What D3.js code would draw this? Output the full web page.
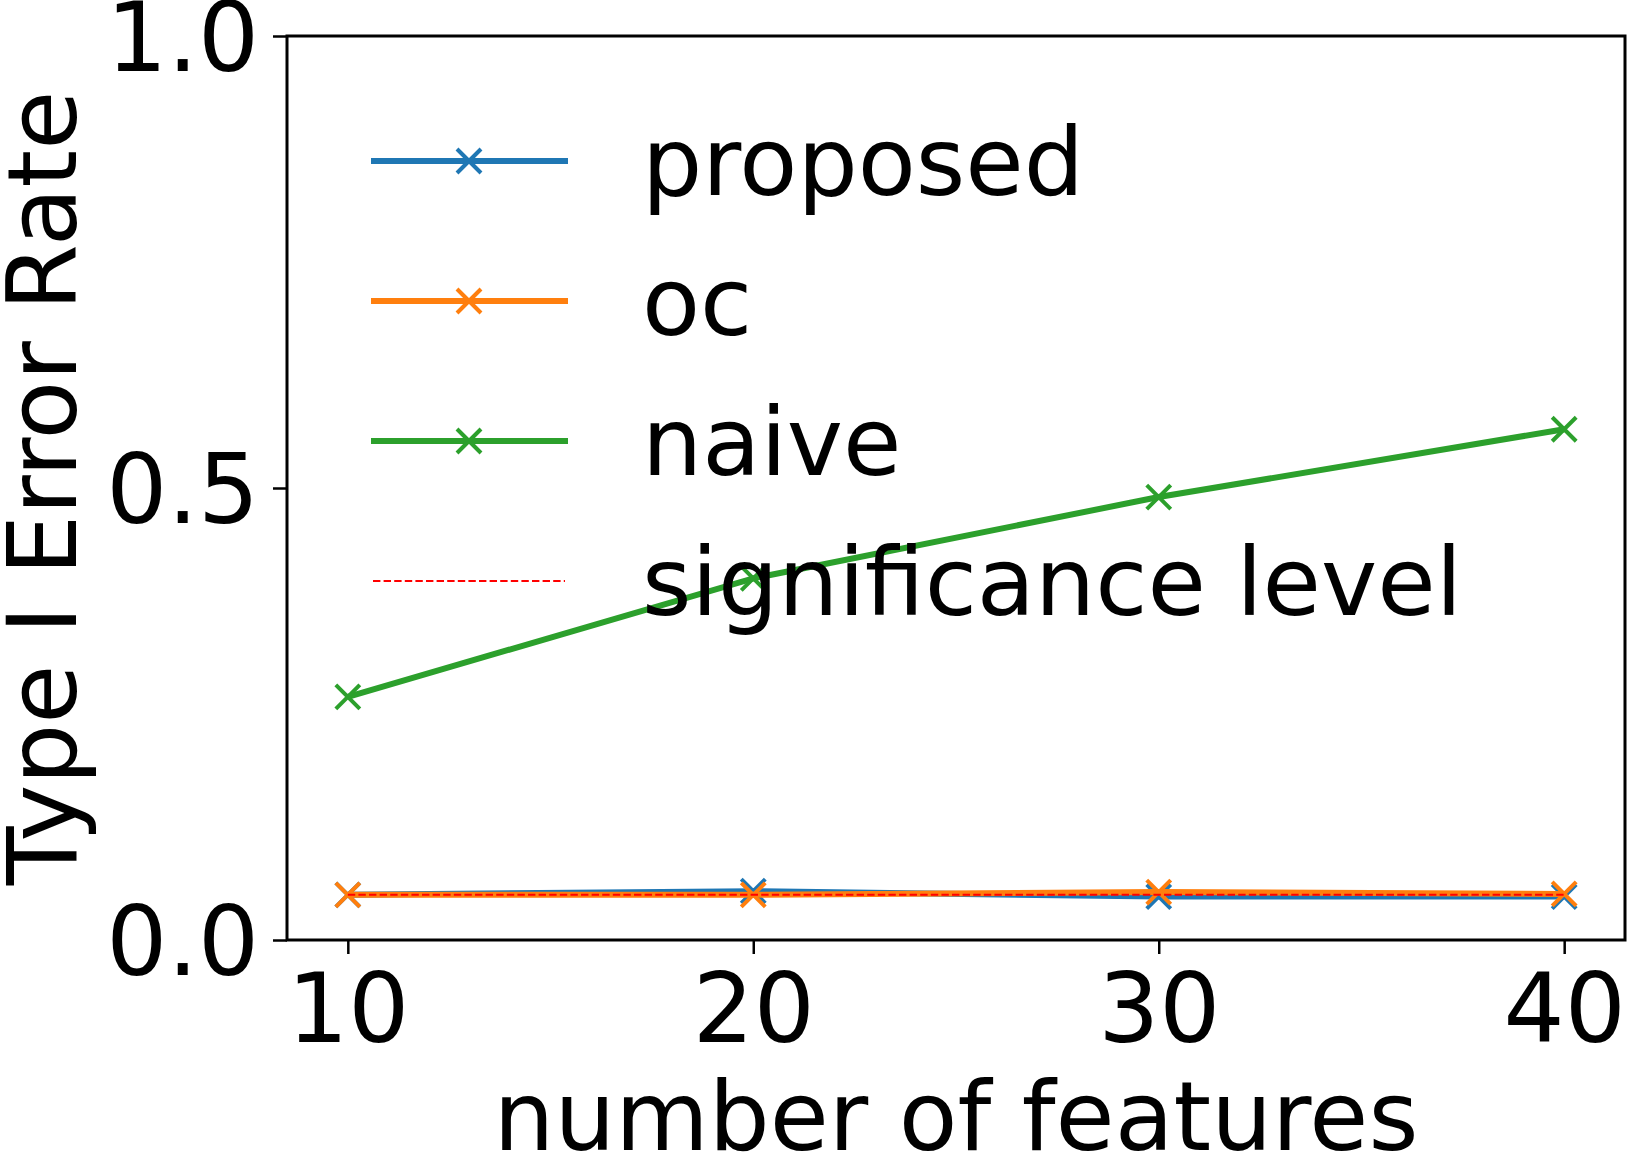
<!DOCTYPE html>
<html>
<head>
<meta charset="utf-8">
<script src="https://cdn.jsdelivr.net/npm/d3@7"></script>
<style>
  body { margin: 0; background: #fff; }
  svg { display: block; font-family: 'DejaVu Sans', sans-serif; }
</style>
</head>
<body>
<svg id="vis_svg" width="1627" height="1169"></svg>
<script>
// data
const features = [10, 20, 30, 40];
const proposed = [0.050, 0.054, 0.048, 0.048];
const oc = [0.050, 0.050, 0.053, 0.051];
const naive = [0.269, 0.400, 0.490, 0.565];
const significance = 0.05;
const xTicks = [10, 20, 30, 40];
const yTicks = [0.0, 0.5, 1.0];

const series = [
  { name: 'proposed', values: proposed, color: '#1f77b4' },
  { name: 'oc', values: oc, color: '#ff7f0e' },
  { name: 'naive', values: naive, color: '#2ca02c' },
];

const margin = { top: 36, bottom: 229, left: 287, right: 2 };
const svg = d3.select('#vis_svg');
const width = 1627, height = 1169;

const xScale = d3.scaleLinear().domain([8.5, 41.5]).range([margin.left, width - margin.right]);
const yScale = d3.scaleLinear().domain([0, 1]).range([height - margin.bottom, margin.top]);

const tickFont = 96;

// x axis
const gx = svg.append('g')
  .attr('transform', `translate(0,${yScale(0)})`)
  .call(d3.axisBottom(xScale).tickValues(xTicks).tickSize(14).tickPadding(20).tickFormat(d3.format('d')));
gx.select('.domain').remove();
gx.selectAll('line').attr('stroke', '#000').attr('stroke-width', 2.5);
gx.selectAll('text').attr('font-size', tickFont).attr('fill', '#000').attr('font-family', 'DejaVu Sans');

// y axis
const gy = svg.append('g')
  .attr('transform', `translate(${margin.left},0)`)
  .call(d3.axisLeft(yScale).tickValues(yTicks).tickSize(14).tickPadding(14).tickFormat(d3.format('.1f')));
gy.select('.domain').remove();
gy.selectAll('line').attr('stroke', '#000').attr('stroke-width', 2.5);
gy.selectAll('text').attr('font-size', tickFont).attr('fill', '#000').attr('font-family', 'DejaVu Sans')
  .attr('dy', '0.36em');

// frame
svg.append('rect')
  .attr('x', margin.left).attr('y', margin.top)
  .attr('width', width - margin.right - margin.left)
  .attr('height', yScale(0) - margin.top)
  .attr('fill', 'none').attr('stroke', '#000').attr('stroke-width', 3);

const line = d3.line().x((d, i) => xScale(features[i])).y((d) => yScale(d));

const drawX = (g, cx, cy, color, s) => {
  g.append('path')
    .attr('d', `M${cx - s},${cy - s}L${cx + s},${cy + s}M${cx - s},${cy + s}L${cx + s},${cy - s}`)
    .attr('stroke', color).attr('stroke-width', 4).attr('fill', 'none');
};

const gLines = svg.append('g');
// draw in order: naive, proposed, oc, then significance on top
[series[2], series[0], series[1]].forEach((s) => {
  gLines.append('path')
    .datum(s.values)
    .attr('d', line)
    .attr('fill', 'none')
    .attr('stroke', s.color)
    .attr('stroke-width', 6);
  s.values.forEach((v, i) => drawX(gLines, xScale(features[i]), yScale(v), s.color, 12));
});

gLines.append('line')
  .attr('x1', xScale(features[0])).attr('x2', xScale(features[features.length - 1]))
  .attr('y1', yScale(significance)).attr('y2', yScale(significance))
  .attr('stroke', 'red').attr('stroke-width', 2).attr('stroke-dasharray', '7.4,3.2');

// legend
const legendFont = 95;
const legend = svg.append('g');
const legendItems = series.map((s) => ({ name: s.name, color: s.color, dashed: false }))
  .concat([{ name: 'significance level', color: 'red', dashed: true }]);
legendItems.forEach((item, i) => {
  const y = 161 + i * 140;
  if (item.dashed) {
    legend.append('line')
      .attr('x1', 373).attr('x2', 565).attr('y1', y).attr('y2', y)
      .attr('stroke', item.color).attr('stroke-width', 2).attr('stroke-dasharray', '7.4,3.2');
  } else {
    legend.append('line')
      .attr('x1', 371).attr('x2', 568).attr('y1', y).attr('y2', y)
      .attr('stroke', item.color).attr('stroke-width', 6);
    drawX(legend, 469, y, item.color, 12);
  }
  legend.append('text')
    .attr('x', 642).attr('y', y).attr('dy', '0.36em')
    .attr('font-size', legendFont).attr('fill', '#000')
    .text(item.name);
});

// axis labels
svg.append('text')
  .attr('x', (margin.left + width - margin.right) / 2).attr('y', 1150)
  .attr('text-anchor', 'middle').attr('font-size', tickFont).attr('fill', '#000')
  .text('number of features');

svg.append('text')
  .attr('transform', `translate(76,${(margin.top + yScale(0)) / 2}) rotate(-90)`)
  .attr('text-anchor', 'middle').attr('font-size', tickFont).attr('fill', '#000')
  .text('Type I Error Rate');
</script>
</body>
</html>
